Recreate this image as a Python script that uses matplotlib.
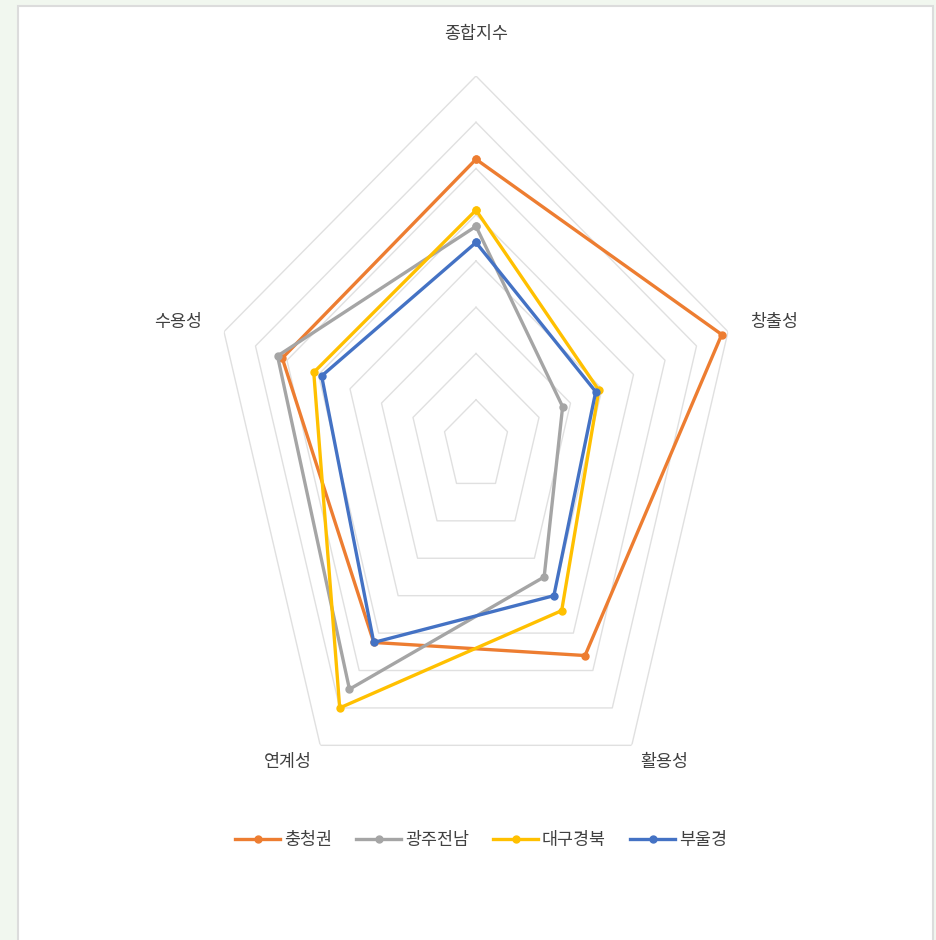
#!/usr/bin/env python3
"""Radar chart of regional index scores (5 dimensions, 4 regions)."""

import matplotlib
matplotlib.use("Agg")
import matplotlib.pyplot as plt
from matplotlib.patches import Rectangle
import numpy as np


CATEGORIES = ["종합지수", "창출성", "활용성", "연계성", "수용성"]
REGIONS = ["충청권", "광주전남", "대구경북", "부울경"]

CHUNGCHEONG = [6.2, 7.8, 5.6, 5.25, 6.15]
GWANGJU_JEONNAM = [4.75, 2.75, 3.5, 6.5, 6.3]
DAEGU_GYEONGBUK = [5.1, 3.9, 4.4, 7.0, 5.15]
BUULGYEONG = [4.4, 3.8, 4.0, 5.25, 4.9]

SERIES = [CHUNGCHEONG, GWANGJU_JEONNAM, DAEGU_GYEONGBUK, BUULGYEONG]
COLORS = ["#ED7D31", "#A5A5A5", "#FFC000", "#4472C4"]

R_MAX = 8
GRID_LEVELS = list(range(1, R_MAX + 1))


def main():
    plt.rcParams["font.family"] = ["Noto Sans CJK KR", "DejaVu Sans"]

    fig = plt.figure(figsize=(9.37, 9.40), dpi=100, facecolor="#f1f7ef")

    # white chart area with thin border, as in the source screenshot
    fig.add_artist(Rectangle((18 / 937, -0.01), (933 - 18) / 937, 1 - 6 / 940 + 0.01,
                             transform=fig.transFigure, facecolor="white",
                             edgecolor="#dcdcdc", linewidth=1.5, zorder=-1))

    # polar axes stretched into a non-square box (source chart is squeezed horizontally)
    ax = fig.add_axes([211 / 937, 1 - 816 / 940, 530 / 937, 740 / 940], projection="polar")
    ax.set_aspect("auto")
    ax.patch.set_alpha(0)
    ax.set_theta_zero_location("N")
    ax.set_theta_direction(-1)
    ax.set_ylim(0, R_MAX)
    ax.grid(False)
    ax.spines["polar"].set_visible(False)
    ax.set_xticks([])
    ax.set_yticks([])

    n = len(CATEGORIES)
    angles = np.linspace(0, 2 * np.pi, n, endpoint=False)
    closed = np.append(angles, angles[0])

    for level in GRID_LEVELS:
        ax.plot(closed, [level] * (n + 1), color="#e0e0e0", linewidth=1.0, zorder=1)

    for name, values, color in zip(REGIONS, SERIES, COLORS):
        vals = list(values) + [values[0]]
        ax.plot(closed, vals, color=color, linewidth=2.4, marker="o", markersize=5,
                label=name, zorder=3)

    label_r = [8.9, 8.7, 8.45, 8.45, 8.7]
    label_ha = ["center", "left", "left", "right", "right"]
    for ang, text, r, ha in zip(angles, CATEGORIES, label_r, label_ha):
        ax.text(ang, r, text, ha=ha, va="center", fontsize=12.5, color="#404040",
                clip_on=False)

    handles, labels = ax.get_legend_handles_labels()
    fig.legend(handles, labels, loc="center", bbox_to_anchor=(481 / 937, 1 - 840 / 940),
               ncol=4, frameon=False, fontsize=12.5, handlelength=2.6,
               handletextpad=0.2, columnspacing=1.4, labelcolor="#404040")

    fig.savefig("out.png", dpi=100, facecolor=fig.get_facecolor())
    plt.close(fig)


if __name__ == "__main__":
    main()
